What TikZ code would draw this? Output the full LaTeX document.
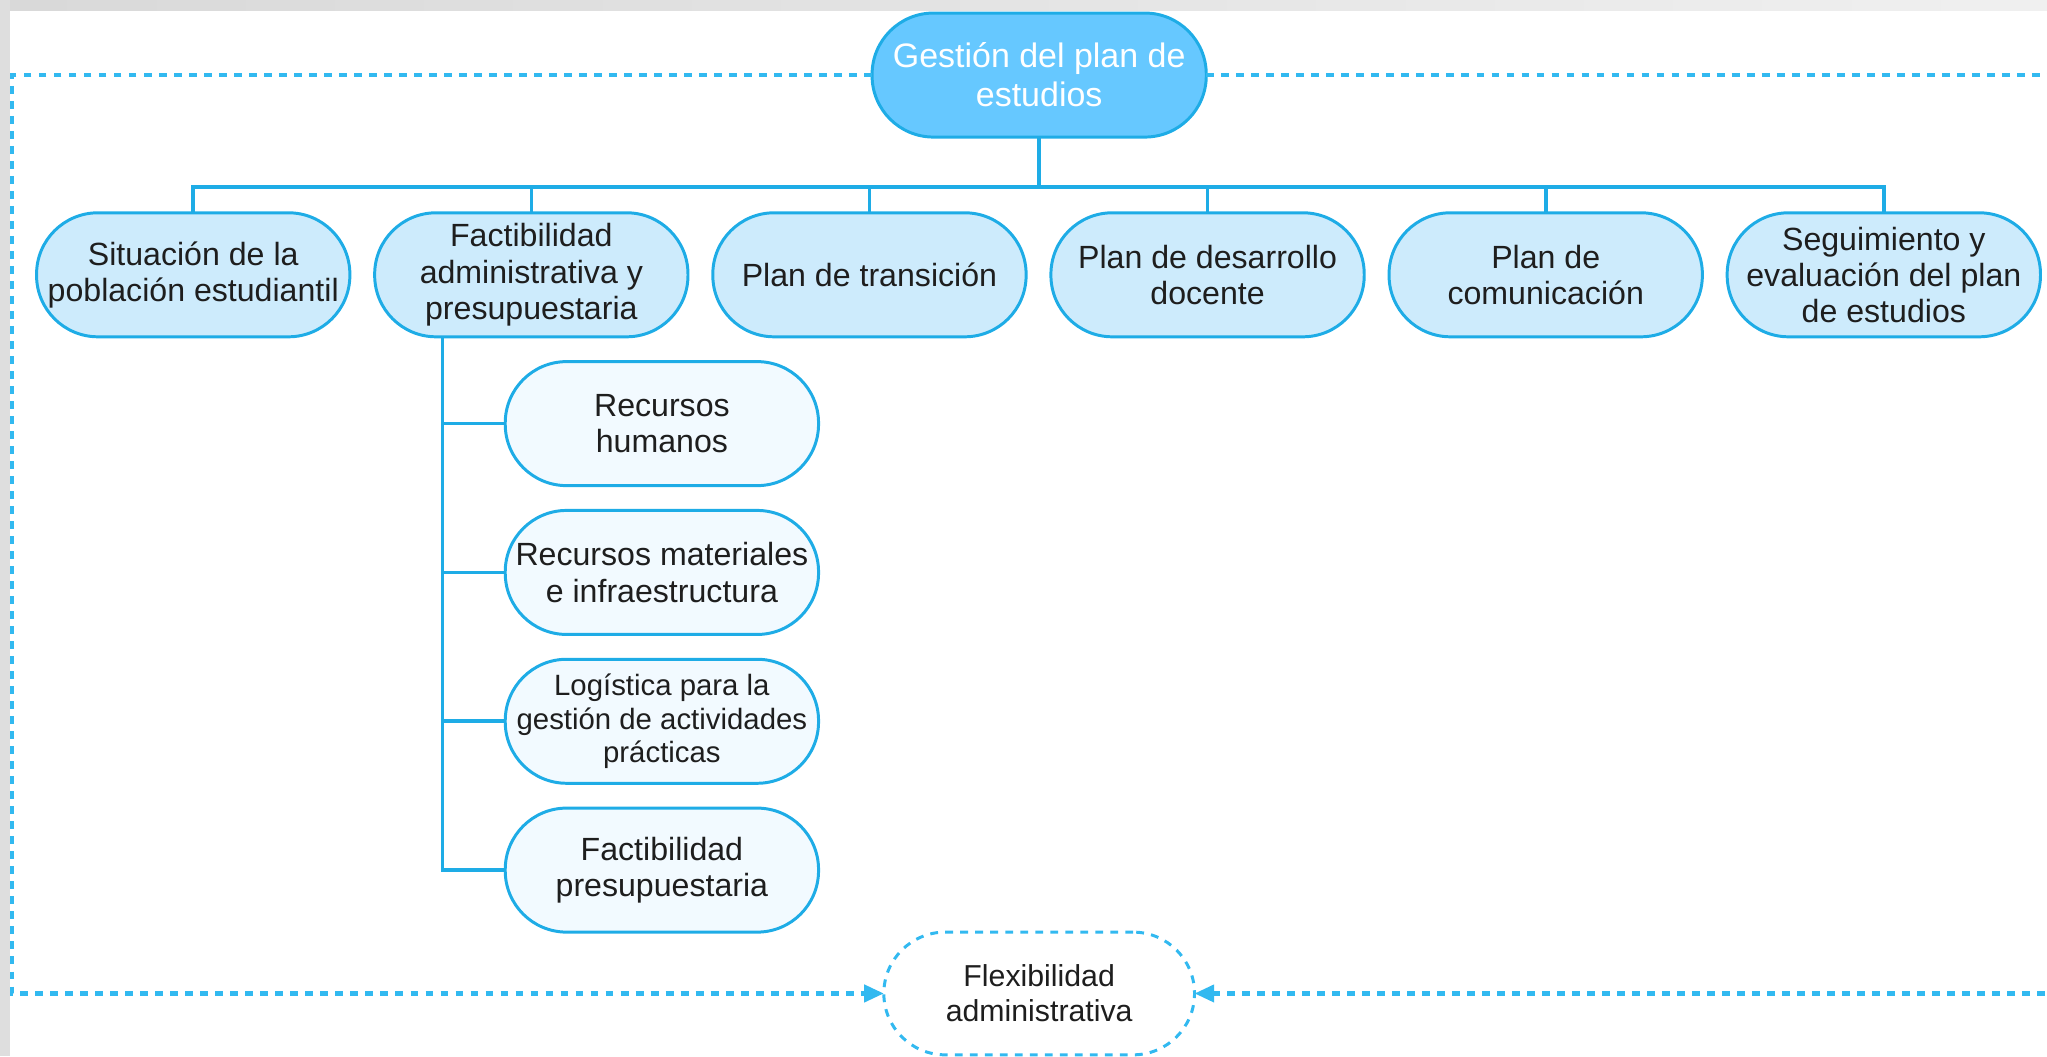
\documentclass[tikz,border=0pt]{standalone}
\usepackage{fontspec}
\setmainfont{Liberation Sans}
\usetikzlibrary{arrows.meta,positioning,calc}
\definecolor{topblue}{RGB}{102,200,255}
\definecolor{midblue}{RGB}{205,235,252}
\definecolor{lowblue}{RGB}{242,250,255}
\definecolor{lineblue}{RGB}{30,172,230}
\definecolor{dashblue}{RGB}{50,185,240}
\definecolor{inkgray}{RGB}{30,30,30}
\tikzset{
  pill/.style={draw=lineblue,line width=0.65pt,rounded corners=0.47cm,minimum width=2.4cm,minimum height=0.95cm,
    align=center,inner sep=1pt,outer sep=0pt,text=inkgray,font=\fontsize{7}{7.9}\selectfont},
  topbox/.style={pill,fill=topblue,text=white,minimum width=2.56cm,font=\fontsize{7.4}{8.5}\selectfont},
  mainbox/.style={pill,fill=midblue},
  subbox/.style={pill,fill=lowblue},
  flexbox/.style={pill,fill=white,draw=dashblue,dash pattern=on 0.06cm off 0.055cm,minimum width=2.38cm,minimum height=0.94cm,
    font=\fontsize{6.6}{7.7}\selectfont},
  link/.style={draw=lineblue,line width=0.8pt},
  loopline/.style={draw=dashblue,line width=0.9pt,dash pattern=on 0.06cm off 0.055cm,-{Triangle[length=0.15cm,width=0.13cm]}}
}

\begin{document}
\begin{tikzpicture}
\useasboundingbox (0,0) rectangle (15.68,-8.09);
\clip (0,0) rectangle (15.68,-8.09);
\shade[left color=black!15,right color=black!6] (0,0) rectangle (15.68,-0.08);
\fill[black!13] (0,0) rectangle (0.08,-8.09);

% main level
\node[topbox] (top) at (7.96,-0.575) {Gestión del plan de\\estudios};
\node[mainbox] (sit) at (1.48,-2.105) {Situación de la\\población estudiantil};
\node[mainbox,right=0.19cm of sit] (fac) {Factibilidad\\administrativa y\\presupuestaria};
\node[mainbox,right=0.19cm of fac] (tra) {Plan de transición};
\node[mainbox,right=0.19cm of tra] (doc) {Plan de desarrollo\\docente};
\node[mainbox,right=0.19cm of doc] (com) {Plan de\\comunicación};
\node[mainbox,right=0.19cm of com] (seg) {Seguimiento y\\evaluación del plan\\de estudios};

% second level
\node[subbox] (rh) at (5.07,-3.245) {Recursos\\humanos};
\node[subbox,below=0.19cm of rh] (rm) {Recursos materiales\\e infraestructura};
\node[subbox,below=0.19cm of rm,font=\fontsize{6.4}{7.4}\selectfont] (log) {Logística para la\\gestión de actividades\\prácticas};
\node[subbox,below=0.19cm of log] (fp) {Factibilidad\\presupuestaria};

\node[flexbox] (fl) at (7.96,-7.61) {Flexibilidad\\administrativa};

\coordinate (bus) at (0,-1.43);
\coordinate (trunk) at (3.39,0);
\coordinate (loopl) at (0.093,0);
\coordinate (loopr) at (15.95,0);

\foreach \n in {sit,fac,tra,doc,com,seg}
  \draw[link] (top.south) |- (\n.north |- bus) -- (\n.north);
\foreach \s in {rh,rm,log,fp}
  \draw[link] (fac.south -| trunk) |- (\s.west);

\draw[loopline] (top.west) -- (top.west -| loopl) -- (fl.west -| loopl) -- (fl.west);
\draw[loopline] (top.east) -- (top.east -| loopr) -- (fl.east -| loopr) -- (fl.east);
\end{tikzpicture}
\end{document}
